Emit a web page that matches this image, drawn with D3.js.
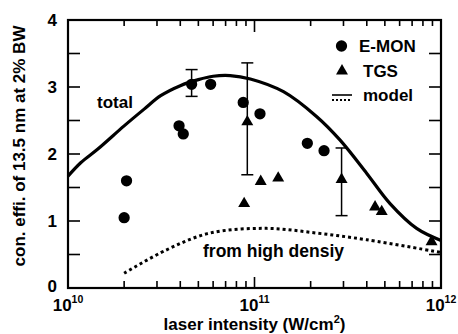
<!DOCTYPE html>
<html>
<head>
<meta charset="utf-8">
<script src="https://cdn.jsdelivr.net/npm/d3@7"></script>
<style>
  body { margin: 0; background: #fff; }
  text { font-family: "Liberation Sans", Arial, sans-serif; font-weight: bold; fill: #000; }
</style>
</head>
<body>
<svg id="chart" width="458" height="334"></svg>
<script>
// E-MON measurements
const emonX = [2.0e10, 2.06e10, 3.94e10, 4.15e10, 4.6e10, 5.82e10, 8.7e10, 1.07e11, 1.92e11, 2.36e11];
const emonY = [1.05, 1.60, 2.42, 2.30, 3.04, 3.04, 2.77, 2.60, 2.16, 2.05];

// TGS measurements
const tgsX = [8.8e10, 9.15e10, 1.08e11, 1.34e11, 2.93e11, 4.43e11, 4.81e11, 8.9e11];
const tgsY = [1.26, 2.48, 1.59, 1.64, 1.62, 1.21, 1.14, 0.69];

// error bars
const errX = [4.6e10, 9.15e10, 2.93e11];
const errLo = [2.86, 1.69, 1.08];
const errHi = [3.26, 3.36, 2.09];

// model: total
const totalX = [1e10, 1.17e10, 1.44e10, 2.0e10, 2.56e10, 3.14e10, 4.0e10, 5.0e10, 6.0e10, 7.4e10, 9.5e10, 1.43e11, 2.15e11, 2.87e11, 4.0e11, 5.33e11, 7.4e11, 1e12];
const totalY = [1.67, 1.87, 2.07, 2.42, 2.67, 2.87, 3.02, 3.11, 3.16, 3.17, 3.12, 2.93, 2.56, 2.21, 1.71, 1.26, 0.89, 0.71];

// model: from high density
const highX = [2.0e10, 3.38e10, 5.77e10, 1.16e11, 2.15e11, 4.0e11, 1e12];
const highY = [0.22, 0.57, 0.82, 0.89, 0.82, 0.72, 0.53];

const yTicks = [0, 1, 2, 3, 4];
const xMajor = [1e10, 1e11, 1e12];
const xLabels = [['10', '10'], ['10', '11'], ['10', '12']];

const margin = {left: 68, top: 20, right: 17, bottom: 46};
const W = 458, H = 334;
const w = W - margin.left - margin.right;
const h = H - margin.top - margin.bottom;

const svg = d3.select('#chart');
const g = svg.append('g').attr('transform', 'translate(' + margin.left + ',' + margin.top + ')');

const x = d3.scaleLog().domain([1e10, 1e12]).range([0, w]);
const y = d3.scaleLinear().domain([0, 4]).range([h, 0]);

// minor ticks on log axis
let xMinor = [];
[1e10, 1e11].forEach(function (d) {
  for (let k = 2; k <= 9; k++) xMinor.push(d * k);
});

// ticks, all pointing inward
const tickG = g.append('g').attr('stroke', '#000').attr('stroke-width', 1.6);
xMinor.forEach(function (d) {
  tickG.append('line').attr('x1', x(d)).attr('x2', x(d)).attr('y1', h).attr('y2', h - 7);
  tickG.append('line').attr('x1', x(d)).attr('x2', x(d)).attr('y1', 0).attr('y2', 6);
});
tickG.append('line').attr('x1', x(1e11)).attr('x2', x(1e11)).attr('y1', h).attr('y2', h - 11);
tickG.append('line').attr('x1', x(1e11)).attr('x2', x(1e11)).attr('y1', 0).attr('y2', 12);
d3.range(0.5, 4, 0.5).forEach(function (d) {
  tickG.append('line').attr('x1', 0).attr('x2', 12).attr('y1', y(d)).attr('y2', y(d));
  tickG.append('line').attr('x1', w).attr('x2', w - 12).attr('y1', y(d)).attr('y2', y(d));
});

// frame
g.append('rect')
  .attr('width', w).attr('height', h)
  .attr('fill', 'none').attr('stroke', '#000').attr('stroke-width', 2.2);

// y tick labels
g.selectAll('.ylab').data(yTicks).enter().append('text')
  .attr('x', -11).attr('y', function (d) { return y(d) - (d === 0 ? 2 : 0); })
  .attr('dy', '0.36em')
  .attr('text-anchor', 'end')
  .style('font-size', '17px')
  .text(function (d) { return d; });

// x tick labels with exponents
xMajor.forEach(function (d, i) {
  const t = g.append('text')
    .attr('x', x(d)).attr('y', h + 23)
    .attr('text-anchor', 'middle')
    .style('font-size', '17px');
  t.append('tspan').text(xLabels[i][0]);
  t.append('tspan').attr('dy', -8).style('font-size', '10.5px').text(xLabels[i][1]);
});

// axis titles
const xt = svg.append('text')
  .attr('x', margin.left + w / 2).attr('y', 330)
  .attr('text-anchor', 'middle')
  .style('font-size', '17px');
xt.append('tspan').text('laser intensity (W/cm');
xt.append('tspan').attr('dy', -7).style('font-size', '11px').text('2');
xt.append('tspan').attr('dy', 7).text(')');

svg.append('text')
  .attr('transform', 'translate(25,146) rotate(-90)')
  .attr('text-anchor', 'middle')
  .style('font-size', '17px')
  .text('con. effi. of 13.5 nm at 2% BW');

// model curves
const line = d3.line()
  .x(function (d) { return x(d[0]); })
  .y(function (d) { return y(d[1]); })
  .curve(d3.curveCatmullRom.alpha(0.5));

g.append('path')
  .datum(d3.zip(totalX, totalY))
  .attr('d', line)
  .attr('fill', 'none').attr('stroke', '#000').attr('stroke-width', 3.2);

g.append('path')
  .datum(d3.zip(highX, highY))
  .attr('d', line)
  .attr('fill', 'none').attr('stroke', '#000').attr('stroke-width', 3)
  .attr('stroke-dasharray', '3,3');

// error bars
errX.forEach(function (d, i) {
  const eg = g.append('g').attr('stroke', '#000').attr('stroke-width', 1.5);
  eg.append('line').attr('x1', x(d)).attr('x2', x(d)).attr('y1', y(errLo[i])).attr('y2', y(errHi[i]));
  eg.append('line').attr('x1', x(d) - 6).attr('x2', x(d) + 6).attr('y1', y(errLo[i])).attr('y2', y(errLo[i]));
  eg.append('line').attr('x1', x(d) - 6).attr('x2', x(d) + 6).attr('y1', y(errHi[i])).attr('y2', y(errHi[i]));
});

// points
const circleSym = d3.symbol().type(d3.symbolCircle).size(100);
const triSym = d3.symbol().type(d3.symbolTriangle).size(62);

g.selectAll('.emon').data(d3.zip(emonX, emonY)).enter().append('path')
  .attr('d', circleSym)
  .attr('transform', function (d) { return 'translate(' + x(d[0]) + ',' + y(d[1]) + ')'; })
  .attr('fill', '#000');

g.selectAll('.tgs').data(d3.zip(tgsX, tgsY)).enter().append('path')
  .attr('d', triSym)
  .attr('transform', function (d) { return 'translate(' + x(d[0]) + ',' + y(d[1]) + ')'; })
  .attr('fill', '#000');

// curve labels
svg.append('text').attr('x', 97).attr('y', 107.5).style('font-size', '17px').text('total');
svg.append('text').attr('x', 203).attr('y', 257).style('font-size', '17.5px').text('from high densiy');

// legend
const lg = svg.append('g');
lg.append('path').attr('d', circleSym).attr('transform', 'translate(341.5,46)').attr('fill', '#000');
lg.append('text').attr('x', 359).attr('y', 52).style('font-size', '17px').text('E-MON');
lg.append('path').attr('d', triSym).attr('transform', 'translate(342,71)').attr('fill', '#000');
lg.append('text').attr('x', 363).attr('y', 77).style('font-size', '17px').text('TGS');
lg.append('line').attr('x1', 332).attr('x2', 352).attr('y1', 95).attr('y2', 95)
  .attr('stroke', '#000').attr('stroke-width', 1.6);
lg.append('line').attr('x1', 332).attr('x2', 352).attr('y1', 100).attr('y2', 100)
  .attr('stroke', '#000').attr('stroke-width', 1.8).attr('stroke-dasharray', '2,2');
lg.append('text').attr('x', 363).attr('y', 101).style('font-size', '17px').text('model');
</script>
</body>
</html>
